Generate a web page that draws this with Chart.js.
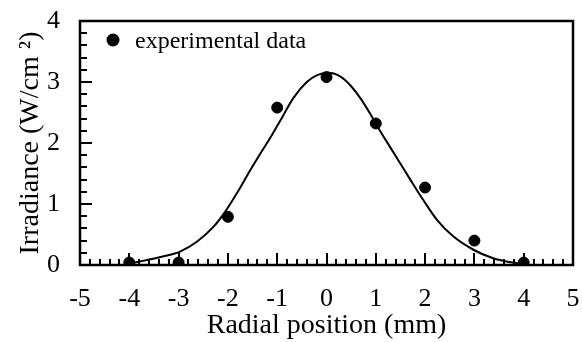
<!DOCTYPE html>
<html>
<head>
<meta charset="utf-8">
<script src="https://cdn.jsdelivr.net/npm/chart.js@4.4.0/dist/chart.umd.min.js"></script>
<style>
  html, body { margin: 0; padding: 0; background: #fff; }
  #wrap { width: 582px; height: 342px; position: relative; }
</style>
</head>
<body>
<div id="wrap"><canvas id="chart" width="582" height="342"></canvas></div>
<script>
// Datos experimentales
const dataX = [-4, -3, -2, -1, 0, 1, 2, 3, 4];
const dataY = [0.04, 0.04, 0.79, 2.58, 3.08, 2.32, 1.27, 0.40, 0.04];

// Curva de ajuste
const curveX = [-4.0, -3.65, -3.32, -2.97, -2.63, -2.30, -2.05, -1.8, -1.55, -1.3, -1.1, -0.9, -0.67, -0.4, -0.2, 0.03, 0.3, 0.5, 0.7, 0.9, 1.1, 1.3, 1.5, 1.7, 1.96, 2.24, 2.57, 2.98, 3.38, 3.7, 4.0];
const curveY = [0.02, 0.08, 0.14, 0.22, 0.38, 0.62, 0.88, 1.20, 1.55, 1.88, 2.14, 2.42, 2.74, 3.00, 3.11, 3.15, 3.08, 2.93, 2.72, 2.46, 2.18, 1.92, 1.66, 1.40, 1.07, 0.74, 0.47, 0.25, 0.11, 0.05, 0.02];

const xTicks = [-5, -4, -3, -2, -1, 0, 1, 2, 3, 4, 5];
const yTicks = [0, 1, 2, 3, 4];
const legendLabel = 'experimental data';

const FONT = 'Liberation Serif, Times New Roman, serif';

// Marcas internas (mayores y menores) en los ejes + marco + leyenda
const innerTicks = {
    id: 'innerTicks',
    afterDraw(chart) {
        const { ctx, chartArea: a, scales: { x, y } } = chart;
        ctx.save();
        ctx.strokeStyle = '#000';
        ctx.lineWidth = 2;
        ctx.beginPath();
        for (let i = 0; i <= 50; i++) {
            const v = -5 + i * 0.2;
            const px = Math.round(x.getPixelForValue(v));
            const len = (i % 5 === 0) ? 12 : 6;
            ctx.moveTo(px, a.bottom);
            ctx.lineTo(px, a.bottom - len);
        }
        for (let i = 0; i <= 20; i++) {
            const v = i * 0.2;
            const py = Math.round(y.getPixelForValue(v));
            const len = (i % 5 === 0) ? 12 : 7;
            ctx.moveTo(a.left, py);
            ctx.lineTo(a.left + len, py);
        }
        ctx.stroke();
        ctx.lineWidth = 2.5;
        ctx.strokeRect(a.left, a.top, a.right - a.left, a.bottom - a.top);

        // Leyenda dentro del área
        ctx.fillStyle = '#000';
        ctx.beginPath();
        ctx.arc(a.left + 33, a.top + 19, 6.5, 0, Math.PI * 2);
        ctx.fill();
        ctx.font = '24px ' + FONT;
        ctx.textBaseline = 'middle';
        ctx.fillText(legendLabel, a.left + 55, a.top + 21);
        ctx.restore();
    }
};

new Chart(document.getElementById('chart'), {
    type: 'scatter',
    data: {
        datasets: [{
            label: 'fit',
            data: curveX.map((v, i) => ({ x: v, y: curveY[i] })),
            showLine: true,
            borderColor: '#000',
            borderWidth: 2,
            pointRadius: 0,
            cubicInterpolationMode: 'monotone',
            order: 2
        }, {
            label: legendLabel,
            data: dataX.map((v, i) => ({ x: v, y: dataY[i] })),
            backgroundColor: '#000',
            borderColor: '#000',
            pointRadius: 5.5,
            order: 1
        }]
    },
    options: {
        responsive: false,
        animation: false,
        layout: { padding: { top: 21, right: 9, left: 0, bottom: 0 } },
        plugins: { legend: { display: false }, tooltip: { enabled: false } },
        scales: {
            x: {
                type: 'linear',
                min: -5, max: 5,
                afterFit: s => { s.height = 77; s.paddingLeft = 0; s.paddingRight = 0; },
                afterBuildTicks: s => { s.ticks = xTicks.map(v => ({ value: v })); },
                grid: { display: false, drawTicks: false },
                border: { display: false },
                ticks: { color: '#000', padding: 19, font: { family: FONT, size: 26 } },
                title: {
                    display: true, text: 'Radial position (mm)', color: '#000',
                    font: { family: FONT, size: 28 }, padding: { top: 0, bottom: 0 }
                }
            },
            y: {
                min: 0, max: 4,
                afterFit: s => { s.width = 80; s.paddingTop = 0; s.paddingBottom = 0; },
                afterBuildTicks: s => { s.ticks = yTicks.map(v => ({ value: v })); },
                grid: { display: false, drawTicks: false },
                border: { display: false },
                ticks: { color: '#000', padding: 20, font: { family: FONT, size: 26 } },
                title: {
                    display: true, text: 'Irradiance (W/cm ²)', color: '#000',
                    font: { family: FONT, size: 28 }, padding: { top: 14, bottom: 0 }
                }
            }
        }
    },
    plugins: [innerTicks]
});
</script>
</body>
</html>
